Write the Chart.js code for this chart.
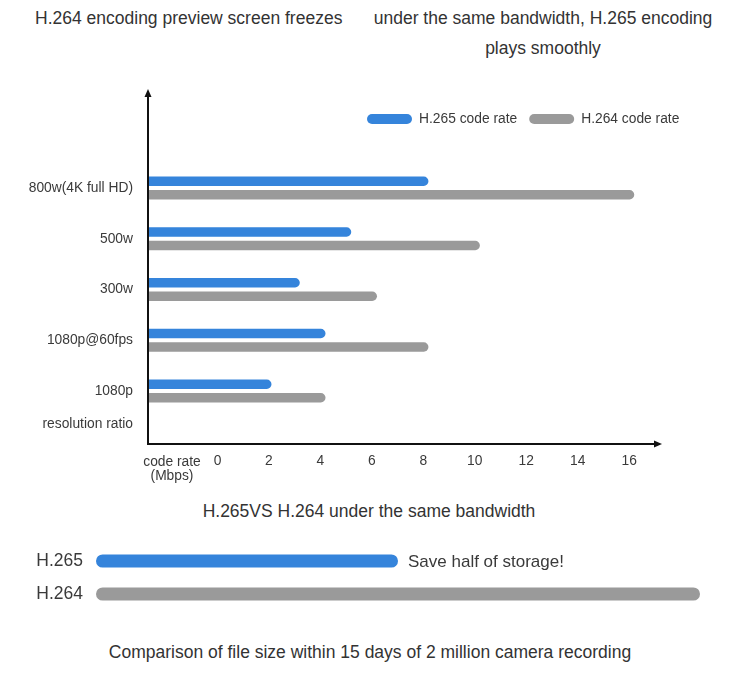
<!DOCTYPE html>
<html><head><meta charset="utf-8">
<script src="https://cdn.jsdelivr.net/npm/chart.js@4.4.1/dist/chart.umd.min.js"></script>
<style>
html,body{margin:0;padding:0;background:#fff;}
body{width:738px;height:690px;position:relative;overflow:hidden;font-family:"Liberation Sans",Arial,sans-serif;color:#333;}
.t{position:absolute;font-size:17.5px;line-height:30px;white-space:nowrap;}
canvas{position:absolute;left:0;}
</style></head><body>
<div class="t" style="left:35px;top:3px;">H.264 encoding preview screen freezes</div>
<div class="t" style="left:343px;width:400px;top:3px;text-align:center;">under the same bandwidth, H.265 encoding<br>plays smoothly</div>
<div class="t" style="left:0;width:738px;top:496px;text-align:center;">H.265VS H.264 under the same bandwidth</div>
<div class="t" style="left:0;width:740px;top:637px;text-align:center;">Comparison of file size within 15 days of 2 million camera recording</div>
<canvas id="c1" width="738" height="420" style="top:80px"></canvas>
<canvas id="c2" width="738" height="80" style="top:540px"></canvas>
<script>
// ---- data ----
const categories = ['800w(4K full HD)', '500w', '300w', '1080p@60fps', '1080p'];
const h265Rate = [8.2, 5.2, 3.2, 4.2, 2.1];
const h264Rate = [16.2, 10.2, 6.2, 8.2, 4.2];
const rateTicks = [0, 2, 4, 6, 8, 10, 12, 14, 16];
const seriesNames = ['H.265 code rate', 'H.264 code rate'];
const yAxisTitle = 'resolution ratio';
const xAxisTitle = ['code rate', '(Mbps)'];
const storageCategories = ['H.265', 'H.264'];
const storageValues = [50, 100];
const storageNote = 'Save half of storage!';

// ---- style ----
const BLUE = '#3584db', GRAY = '#9a9a9a', TEXT = '#3a3a3a';
const FONT = '"Liberation Sans", Arial, sans-serif';
const X_MIN = -2.7, X_MAX = 17.2;

const axesPlugin = {
  id: 'axesPlugin',
  afterDraw(chart) {
    const {ctx, chartArea: a} = chart;
    const x0 = a.left, yb = a.bottom + 27.6, yt = 9, xr = a.right + 2;
    ctx.save();
    ctx.strokeStyle = '#111'; ctx.fillStyle = '#111'; ctx.lineWidth = 2;
    ctx.beginPath();
    ctx.moveTo(x0, yb + 1); ctx.lineTo(x0, yt + 6);
    ctx.moveTo(x0 - 1, yb); ctx.lineTo(xr - 6, yb);
    ctx.stroke();
    ctx.beginPath(); ctx.moveTo(x0, yt); ctx.lineTo(x0 - 3.5, yt + 8); ctx.lineTo(x0 + 3.5, yt + 8); ctx.closePath(); ctx.fill();
    ctx.beginPath(); ctx.moveTo(xr, yb); ctx.lineTo(xr - 8, yb - 3.5); ctx.lineTo(xr - 8, yb + 3.5); ctx.closePath(); ctx.fill();
    ctx.fillStyle = TEXT;
    ctx.font = '13.8px ' + FONT;
    ctx.textBaseline = 'middle';
    ctx.textAlign = 'right';
    ctx.fillText(yAxisTitle, x0 - 15, a.bottom + 7.6);
    ctx.textAlign = 'center';
    ctx.fillText(xAxisTitle[0], x0 + 24, a.bottom + 45.6);
    ctx.fillText(xAxisTitle[1], x0 + 24, a.bottom + 59.6);
    let lx = 367; const ly = 39;
    chart.data.datasets.forEach(ds => {
      ctx.fillStyle = ds.backgroundColor;
      ctx.beginPath(); ctx.roundRect(lx, ly - 5, 45, 10, 5); ctx.fill();
      lx += 52;
      ctx.fillStyle = TEXT; ctx.textAlign = 'left';
      ctx.fillText(ds.label, lx, ly);
      lx += ctx.measureText(ds.label).width + 12;
    });
    ctx.restore();
  }
};

new Chart(document.getElementById('c1'), {
  type: 'bar',
  data: {
    labels: categories,
    datasets: [
      {label: seriesNames[0], data: h265Rate, backgroundColor: BLUE},
      {label: seriesNames[1], data: h264Rate, backgroundColor: GRAY}
    ]
  },
  options: {
    indexAxis: 'y',
    responsive: false,
    animation: false,
    base: X_MIN,
    categoryPercentage: 0.53,
    barPercentage: 0.7,
    borderRadius: 6,
    borderSkipped: 'start',
    layout: {padding: {top: 82.6, right: 78, bottom: 30.6, left: 0}},
    plugins: {legend: {display: false}, tooltip: {enabled: false}, title: {display: false}},
    scales: {
      x: {
        type: 'linear', min: X_MIN, max: X_MAX,
        grid: {display: false, drawTicks: false}, border: {display: false},
        afterBuildTicks: s => { s.ticks = rateTicks.map(v => ({value: v})); },
        afterFit: s => { s.height = 53; s.paddingLeft = 0; s.paddingRight = 0; },
        ticks: {padding: 37, color: TEXT, font: {family: FONT, size: 13.8}, maxRotation: 0, autoSkip: false}
      },
      y: {
        grid: {display: false, drawTicks: false}, border: {display: false},
        afterFit: s => { s.width = 148; s.paddingTop = 0; s.paddingBottom = 0; },
        ticks: {padding: 15, color: TEXT, font: {family: FONT, size: 13.8}}
      }
    }
  },
  plugins: [axesPlugin]
});

const notePlugin = {
  id: 'notePlugin',
  afterDatasetsDraw(chart) {
    const bar = chart.getDatasetMeta(0).data[0];
    const ctx = chart.ctx;
    ctx.save();
    ctx.fillStyle = TEXT; ctx.font = '17px ' + FONT;
    ctx.textBaseline = 'middle'; ctx.textAlign = 'left';
    ctx.fillText(storageNote, bar.x + 10, bar.y + 1);
    ctx.restore();
  }
};

new Chart(document.getElementById('c2'), {
  type: 'bar',
  data: {
    labels: storageCategories,
    datasets: [{label: 'storage', data: storageValues, backgroundColor: [BLUE, GRAY]}]
  },
  options: {
    indexAxis: 'y',
    responsive: false,
    animation: false,
    categoryPercentage: 1,
    barPercentage: 0.4,
    borderRadius: 20,
    borderSkipped: false,
    layout: {padding: {top: 4.5, right: 38, bottom: 9.5, left: 0}},
    plugins: {legend: {display: false}, tooltip: {enabled: false}},
    scales: {
      x: {display: false, min: 0, max: 100},
      y: {
        grid: {display: false, drawTicks: false}, border: {display: false},
        afterFit: s => { s.width = 96; s.paddingTop = 0; s.paddingBottom = 0; },
        ticks: {padding: 13, color: TEXT, font: {family: FONT, size: 17.5}}
      }
    }
  },
  plugins: [notePlugin]
});
</script>
</body></html>
